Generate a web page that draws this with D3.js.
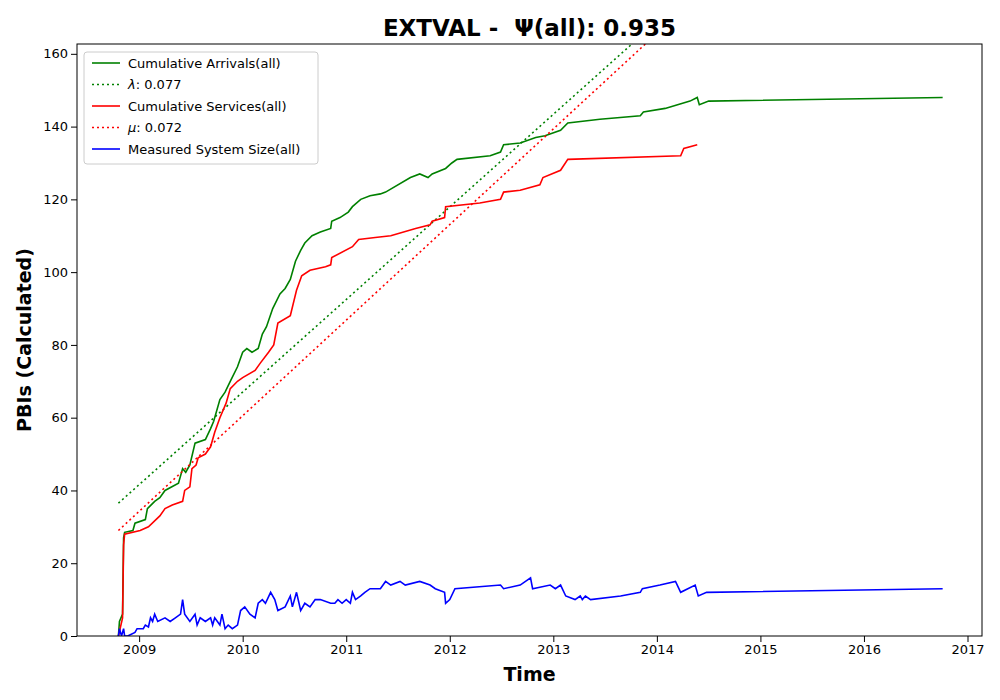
<!DOCTYPE html>
<html><head><meta charset="utf-8">
<script src="https://cdn.jsdelivr.net/npm/d3@7"></script>
<style>body{margin:0;background:#fff;font-family:"DejaVu Sans",sans-serif}</style>
</head><body><div id="chart"></div>
<script>
let width = 1000, height = 700
let m = {left: 77, right: 18, top: 44, bottom: 64}

// [year, value]
let arrivals = [[2008.80,0],[2008.81,4],[2008.84,6],[2008.85,27],[2008.86,28.5],[2008.94,29],[2008.96,31],[2009.06,32],[2009.08,35],[2009.15,37],[2009.20,38],[2009.25,40],[2009.38,42],[2009.42,46],[2009.45,45],[2009.49,47],[2009.54,53],[2009.64,54],[2009.69,57],[2009.72,59],[2009.78,65],[2009.83,67],[2009.88,70],[2009.95,74],[2010.00,78],[2010.04,79],[2010.09,78],[2010.15,79],[2010.19,83],[2010.23,85],[2010.29,90],[2010.36,94],[2010.41,95.5],[2010.46,98],[2010.51,103],[2010.56,106],[2010.60,108],[2010.67,110],[2010.75,111],[2010.85,112],[2010.86,114],[2010.94,115],[2011.02,116.5],[2011.06,118],[2011.14,120],[2011.23,121],[2011.33,121.5],[2011.38,122],[2011.62,126],[2011.71,127],[2011.79,126],[2011.83,127],[2011.96,128.5],[2012.02,130],[2012.07,131],[2012.39,132],[2012.49,133],[2012.52,135],[2012.68,135.5],[2012.83,137],[2012.92,137.5],[2013.07,139],[2013.14,141],[2013.45,142],[2013.84,143],[2013.87,144],[2014.08,145],[2014.32,147],[2014.39,148],[2014.41,146],[2014.50,147],[2016.76,148]]
let services = [[2008.80,0],[2008.84,5],[2008.85,25],[2008.86,28],[2009.01,29],[2009.09,30],[2009.20,33],[2009.25,35],[2009.32,36],[2009.42,37],[2009.44,40],[2009.49,41],[2009.51,46],[2009.55,47],[2009.57,49],[2009.64,50],[2009.69,52],[2009.73,56],[2009.78,60],[2009.84,64],[2009.88,68],[2009.95,70],[2010.00,71],[2010.12,73],[2010.17,75],[2010.25,78],[2010.30,80],[2010.34,86],[2010.46,88],[2010.52,95],[2010.57,99],[2010.65,100.5],[2010.80,101.5],[2010.85,102],[2010.86,104],[2011.06,107],[2011.12,109],[2011.28,109.5],[2011.43,110],[2011.67,112],[2011.81,113],[2011.83,114],[2011.95,115],[2011.96,118],[2012.29,119],[2012.49,120],[2012.52,122],[2012.68,122.5],[2012.87,124],[2012.90,126],[2013.07,128],[2013.14,131],[2014.23,132],[2014.26,134],[2014.39,135]]
let systemSize = [[2008.80,0],[2008.81,2],[2008.83,0],[2008.85,2],[2008.86,0],[2008.89,0],[2008.96,1],[2008.98,2],[2009.04,2],[2009.06,3],[2009.09,2.5],[2009.11,5],[2009.13,4],[2009.15,6],[2009.18,4],[2009.25,5],[2009.30,4],[2009.35,5],[2009.40,6],[2009.42,10],[2009.44,6],[2009.49,4],[2009.54,6],[2009.56,3],[2009.59,5],[2009.64,4],[2009.69,5],[2009.71,3],[2009.73,5],[2009.78,3],[2009.80,6],[2009.83,2],[2009.86,3],[2009.90,2],[2009.95,3],[2009.98,7],[2010.02,8],[2010.07,6],[2010.12,5],[2010.15,9],[2010.19,10],[2010.22,9],[2010.27,12],[2010.31,10],[2010.34,7],[2010.41,8],[2010.46,11],[2010.48,8],[2010.52,12],[2010.56,7],[2010.60,9],[2010.65,8],[2010.70,10],[2010.75,10],[2010.85,9],[2010.89,9],[2010.92,10],[2010.96,9],[2011.00,10],[2011.04,9],[2011.06,12],[2011.09,10],[2011.14,11],[2011.18,12],[2011.23,13],[2011.33,13],[2011.38,15],[2011.43,14],[2011.52,15],[2011.57,14],[2011.71,15],[2011.81,14],[2011.86,13],[2011.95,12],[2011.96,9],[2012.00,10],[2012.05,13],[2012.49,14],[2012.52,13],[2012.68,14],[2012.78,16],[2012.80,13],[2012.97,14],[2013.02,13],[2013.07,14],[2013.12,11],[2013.21,10],[2013.26,11],[2013.28,10],[2013.31,11],[2013.36,10],[2013.65,11],[2013.84,12],[2013.86,13],[2014.03,14],[2014.18,15],[2014.23,12],[2014.37,14],[2014.40,11],[2014.48,12],[2016.76,13]]
let lambdaLine = [[2008.80,36.5],[2013.85,165]]
let muLine = [[2008.80,29],[2013.95,164.3]]
let xTicks = [2009,2010,2011,2012,2013,2014,2015,2016,2017]
let yTicks = [0,20,40,60,80,100,120,140,160]

let svg = d3.select('#chart').append('svg').attr('width', width).attr('height', height)
let x = d3.scaleLinear().domain([2008.40, 2017.14]).range([m.left, width - m.right])
let y = d3.scaleLinear().domain([0, 162.7]).range([height - m.bottom, m.top])

svg.append('clipPath').attr('id', 'clip').append('rect')
  .attr('x', m.left).attr('y', m.top).attr('width', width - m.right - m.left).attr('height', height - m.bottom - m.top)

let line = d3.line().x(d => x(d[0])).y(d => y(d[1]))
let series = [
  {data: arrivals, color: 'green', dash: null, label: 'Cumulative Arrivals(all)'},
  {data: lambdaLine, color: 'green', dash: '2,3', label: 'λ', val: ': 0.077'},
  {data: services, color: 'red', dash: null, label: 'Cumulative Services(all)'},
  {data: muLine, color: 'red', dash: '2,3', label: 'μ', val: ': 0.072'},
  {data: systemSize, color: 'blue', dash: null, label: 'Measured System Size(all)'}
]
let plot = svg.append('g').attr('clip-path', 'url(#clip)')
series.forEach(s => {
  plot.append('path').attr('d', line(s.data)).attr('fill', 'none')
    .attr('stroke', s.color).attr('stroke-width', 1.6).attr('stroke-dasharray', s.dash)
})

svg.append('g').attr('transform', `translate(0,${height - m.bottom})`)
  .call(d3.axisBottom(x).tickValues(xTicks).tickFormat(d3.format('d')).tickSizeOuter(0))
svg.append('g').attr('transform', `translate(${m.left},0)`)
  .call(d3.axisLeft(y).tickValues(yTicks).tickSizeOuter(0))
svg.selectAll('.tick text').attr('font-size', 13).attr('font-family', 'DejaVu Sans')
svg.selectAll('.domain').remove()
svg.append('rect').attr('x', m.left).attr('y', m.top).attr('width', width - m.right - m.left)
  .attr('height', height - m.bottom - m.top).attr('fill', 'none').attr('stroke', 'black')

svg.append('text').attr('x', (m.left + width - m.right) / 2).attr('y', 36).attr('text-anchor', 'middle')
  .attr('font-size', 23).attr('font-weight', 'bold').text('EXTVAL - \u00a0Ψ(all): 0.935')
svg.append('text').attr('x', (m.left + width - m.right) / 2).attr('y', 681).attr('text-anchor', 'middle')
  .attr('font-size', 19).attr('font-weight', 'bold').text('Time')
svg.append('text').attr('transform', `translate(31,${(m.top + height - m.bottom) / 2}) rotate(-90)`)
  .attr('text-anchor', 'middle').attr('font-size', 19).attr('font-weight', 'bold').text('PBIs (Calculated)')

let leg = svg.append('g').attr('transform', 'translate(84,52)')
leg.append('rect').attr('width', 234).attr('height', 112).attr('rx', 3)
  .attr('fill', 'white').attr('fill-opacity', 0.8).attr('stroke', '#ccc')
series.forEach((s, i) => {
  let yy = 11 + i * 21.5
  leg.append('line').attr('x1', 8).attr('x2', 36).attr('y1', yy).attr('y2', yy)
    .attr('stroke', s.color).attr('stroke-width', 1.6).attr('stroke-dasharray', s.dash)
  let t = leg.append('text').attr('x', 44).attr('y', yy + 4.5).attr('font-size', 13)
  if (s.val) {
    t.append('tspan').attr('font-style', 'italic').text(s.label)
    t.append('tspan').text(s.val)
  } else t.text(s.label)
})
</script></body></html>
